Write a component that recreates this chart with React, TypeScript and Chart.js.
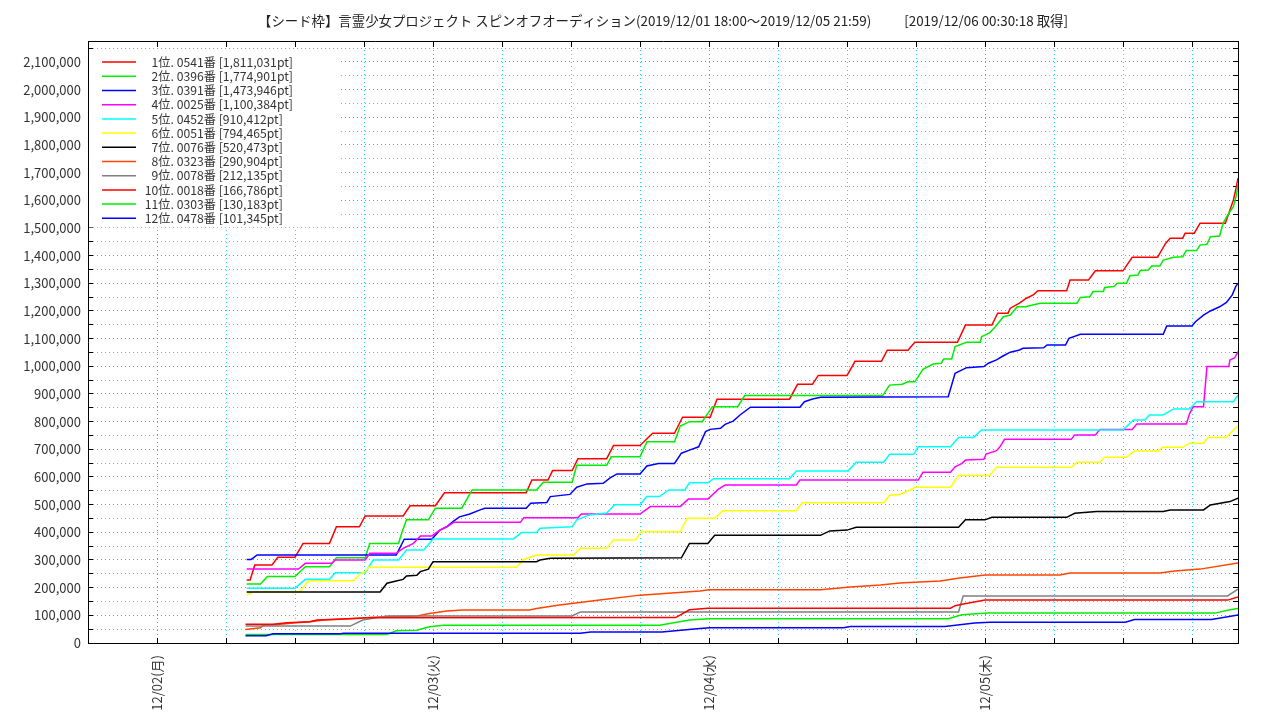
import React, { useEffect, useRef } from 'react';
import { Chart, registerables } from 'chart.js';

Chart.register(...registerables);

type Pt = [number, number];

const FONT = "'Noto Sans CJK JP', 'Noto Sans', sans-serif";

const chartTitle =
  '【シード枠】言霊少女プロジェクト スピンオフオーディション(2019/12/01 18:00～2019/12/05 21:59)           [2019/12/06 00:30:18 取得]';

// x axis: hours since 2019/12/01 18:00
const xMinHours = 0;
const xMaxHours = 100;
const xTickHours = [0, 6, 12, 18, 24, 30, 36, 42, 48, 54, 60, 66, 72, 78, 84, 90, 96];
const dayTickHours = [6, 30, 54, 78];
const dayTickLabels = ['12/02(月)', '12/03(火)', '12/04(水)', '12/05(木)'];
const yMax = 2172000;
const yTickStep = 50000;
const yLabelStep = 100000;

const seriesLabels = [
  '1位. 0541番 [1,811,031pt]',
  '2位. 0396番 [1,774,901pt]',
  '3位. 0391番 [1,473,946pt]',
  '4位. 0025番 [1,100,384pt]',
  '5位. 0452番 [910,412pt]',
  '6位. 0051番 [794,465pt]',
  '7位. 0076番 [520,473pt]',
  '8位. 0323番 [290,904pt]',
  '9位. 0078番 [212,135pt]',
  '10位. 0018番 [166,786pt]',
  '11位. 0303番 [130,183pt]',
  '12位. 0478番 [101,345pt]',
];

const seriesColors = [
  '#ff0000', '#00ee00', '#0000ff', '#ff00ff', '#00ffff', '#ffff00',
  '#000000', '#ff4500', '#808080', '#ff0000', '#00ee00', '#0000ff',
];

// [hour, points]
const s1: Pt[] = [[13.8,228000],[14.1,228000],[14.5,282000],[16.0,282000],[16.5,310000],[18.0,310000],[18.7,360000],[21.0,360000],[21.6,420000],[23.6,420000],[24.1,459000],[27.4,459000],[28.0,496000],[30.2,496000],[31.0,543000],[38.1,543000],[38.6,589000],[40.0,589000],[40.4,623000],[42.1,623000],[42.6,666000],[45.1,666000],[45.7,714000],[48.0,714000],[49.1,758000],[51.0,758000],[51.7,816000],[54.1,816000],[54.7,881000],[61.0,881000],[61.7,935000],[63.0,935000],[63.5,967000],[66.0,967000],[66.7,1018000],[69.0,1018000],[69.5,1058000],[71.3,1058000],[71.9,1087000],[75.6,1087000],[76.3,1149000],[78.6,1149000],[79.1,1192000],[80.0,1192000],[80.2,1210000],[81.0,1228000],[81.6,1246000],[82.2,1258000],[82.6,1273000],[85.1,1273000],[85.4,1312000],[87.0,1312000],[87.6,1345000],[90.0,1345000],[90.8,1394000],[93.0,1394000],[93.7,1444000],[94.1,1463000],[95.2,1463000],[95.4,1481000],[96.2,1481000],[96.7,1517000],[98.9,1517000],[99.6,1601000],[99.8,1637000],[100,1680000]];
const s2: Pt[] = [[13.8,213000],[15.0,213000],[15.6,240000],[18.0,240000],[18.9,276000],[21.0,276000],[21.6,308000],[24.1,308000],[24.5,360000],[27.0,360000],[27.3,400000],[27.7,445000],[29.6,445000],[30.2,487000],[32.5,487000],[33.4,553000],[39.0,553000],[39.6,581000],[42.1,581000],[42.5,642000],[45.1,642000],[45.5,673000],[48.0,673000],[48.6,727000],[51.0,727000],[51.5,784000],[52.3,800000],[53.4,800000],[54.3,854000],[56.5,854000],[57.1,894000],[69.1,894000],[69.7,932000],[70.8,935000],[71.3,944000],[71.9,944000],[72.6,989000],[73.5,1008000],[74.2,1011000],[74.4,1026000],[75.1,1026000],[75.4,1071000],[76.4,1087000],[77.6,1087000],[77.7,1107000],[78.4,1121000],[78.9,1143000],[79.6,1179000],[80.2,1185000],[80.8,1215000],[81.5,1215000],[82.8,1228000],[86.0,1228000],[86.3,1249000],[87.1,1251000],[87.4,1270000],[88.3,1270000],[88.4,1285000],[89.2,1288000],[89.5,1300000],[90.3,1300000],[90.6,1327000],[91.3,1330000],[91.5,1346000],[92.2,1348000],[92.5,1362000],[93.2,1362000],[93.5,1384000],[94.4,1394000],[95.2,1396000],[95.5,1418000],[96.4,1418000],[96.7,1438000],[97.3,1441000],[97.6,1468000],[98.4,1471000],[98.7,1517000],[99.2,1553000],[99.6,1577000],[99.9,1625000],[100,1662000]];
const s3: Pt[] = [[13.8,302000],[14.2,302000],[14.7,318000],[26.8,318000],[27.5,375000],[29.9,375000],[30.6,408000],[31.2,420000],[31.7,438000],[32.3,456000],[33.2,466000],[34.1,481000],[34.5,487000],[38.1,487000],[38.5,505000],[39.9,508000],[40.2,529000],[41.9,537000],[42.5,563000],[43.4,575000],[44.8,577000],[45.4,597000],[46.0,611000],[48.0,611000],[48.6,640000],[49.6,649000],[51.0,649000],[51.6,686000],[52.3,697000],[53.1,709000],[53.7,764000],[54.1,772000],[55.0,776000],[55.4,790000],[56.1,802000],[56.7,824000],[57.6,852000],[61.9,852000],[62.3,872000],[63.0,882000],[63.7,888000],[74.8,890000],[75.4,975000],[76.4,995000],[77.9,999000],[78.3,1011000],[79.0,1023000],[79.6,1038000],[80.2,1051000],[81.0,1059000],[81.3,1065000],[83.1,1067000],[83.4,1077000],[85.0,1077000],[85.3,1101000],[86.3,1116000],[93.5,1116000],[93.8,1146000],[96.0,1146000],[96.3,1161000],[97.0,1185000],[97.6,1200000],[98.4,1215000],[99.0,1231000],[99.5,1258000],[99.8,1288000],[100,1300000]];
const s4: Pt[] = [[13.8,267000],[18.3,267000],[18.9,288000],[21.2,288000],[21.5,300000],[24.1,300000],[24.5,324000],[26.8,324000],[27.4,342000],[28.3,360000],[28.9,387000],[29.9,387000],[30.6,408000],[31.2,420000],[31.8,436000],[37.6,436000],[37.9,453000],[42.6,453000],[42.9,466000],[48.0,466000],[48.9,493000],[51.5,493000],[52.2,520000],[53.9,520000],[54.8,555000],[55.4,571000],[61.6,571000],[61.9,589000],[72.2,589000],[72.6,617000],[75.0,617000],[75.4,637000],[76.0,649000],[76.3,661000],[77.9,664000],[78.1,683000],[79.0,695000],[79.3,709000],[79.7,736000],[85.5,736000],[85.8,752000],[87.6,752000],[88.0,772000],[90.8,772000],[91.2,791000],[95.5,791000],[95.8,830000],[96.1,854000],[97.0,854000],[97.3,999000],[99.2,999000],[99.3,1023000],[99.7,1030000],[100,1053000]];
const s5: Pt[] = [[13.8,198000],[18.0,198000],[18.9,230000],[21.0,230000],[21.5,254000],[24.1,254000],[24.8,300000],[27.0,300000],[27.7,336000],[29.2,336000],[30.0,376000],[37.0,376000],[37.7,399000],[39.0,399000],[39.3,415000],[42.1,420000],[42.5,445000],[43.6,463000],[45.1,470000],[45.8,500000],[48.0,500000],[48.6,529000],[49.7,529000],[50.5,553000],[51.9,553000],[52.3,579000],[53.9,579000],[54.4,594000],[61.0,594000],[61.6,622000],[66.1,622000],[66.8,653000],[69.2,653000],[69.7,682000],[71.8,682000],[72.2,709000],[75.0,709000],[75.7,743000],[77.0,743000],[77.7,770000],[90.0,770000],[90.9,806000],[91.9,806000],[92.3,824000],[93.5,824000],[94.4,846000],[95.8,846000],[96.4,872000],[99.6,872000],[100,896000]];
const s6: Pt[] = [[13.8,173000],[14.4,185000],[18.4,185000],[19.2,225000],[23.1,225000],[23.7,252000],[24.1,258000],[24.4,274000],[37.3,274000],[37.8,300000],[39.0,318000],[42.2,318000],[42.8,342000],[45.1,342000],[45.7,372000],[47.6,372000],[48.1,402000],[51.5,402000],[52.1,451000],[54.5,451000],[55.2,478000],[61.6,478000],[62.1,507000],[69.2,507000],[69.7,534000],[70.6,537000],[71.5,553000],[71.9,563000],[75.0,563000],[75.7,605000],[78.4,605000],[79.0,635000],[85.5,635000],[86.0,653000],[88.0,653000],[88.4,671000],[90.3,671000],[91.0,694000],[93.1,694000],[93.4,707000],[95.2,707000],[95.8,722000],[97.0,722000],[97.4,743000],[99.0,743000],[99.6,770000],[100,784000]];
const s7: Pt[] = [[13.8,184000],[25.4,184000],[26.0,216000],[26.8,224000],[27.4,230000],[27.7,242000],[28.6,245000],[28.9,258000],[29.6,267000],[30.0,294000],[39.0,294000],[39.3,300000],[40.2,306000],[51.6,308000],[52.3,360000],[53.9,360000],[54.5,389000],[63.7,389000],[64.5,405000],[66.0,408000],[66.8,418000],[75.7,418000],[76.3,445000],[78.0,445000],[78.6,454000],[85.1,454000],[85.8,469000],[87.7,475000],[93.5,475000],[94.1,481000],[97.0,481000],[97.6,499000],[99.3,511000],[100,523000]];
const s8: Pt[] = [[13.7,49000],[15.0,55000],[15.2,63000],[16.7,68000],[18.1,73000],[19.3,77000],[20.5,83000],[21.9,86000],[23.4,89000],[24.8,93000],[26.0,95000],[28.6,98000],[29.7,107000],[31.2,116000],[32.6,119000],[38.4,119000],[39.0,125000],[41.0,137000],[44.5,155000],[48.0,173000],[53.2,188000],[54.0,192000],[63.7,192000],[66.3,202000],[68.9,210000],[70.6,217000],[74.1,224000],[75.8,235000],[78.0,246000],[84.5,246000],[85.4,253000],[93.2,253000],[94.5,260000],[96.7,267000],[100,289000]];
const s9: Pt[] = [[13.7,61000],[22.8,61000],[23.9,83000],[26.0,98000],[42.1,98000],[42.8,112000],[75.7,112000],[76.1,170000],[99.1,170000],[100,195000]];
const s10: Pt[] = [[13.7,68000],[16.1,68000],[17.3,73000],[19.3,77000],[19.9,83000],[21.6,86000],[23.7,89000],[24.0,91000],[51.1,92000],[52.3,120000],[53.9,126000],[75.0,126000],[75.4,135000],[76.0,140000],[78.0,155000],[99.1,155000],[100,166000]];
const s11: Pt[] = [[13.7,31000],[26.0,31000],[26.8,44000],[28.6,46000],[29.7,59000],[30.9,64000],[49.7,64000],[52.3,83000],[54.0,88000],[74.8,88000],[76.0,102000],[78.2,108000],[98.0,108000],[99.3,120000],[100,125000]];
const s12: Pt[] = [[13.7,26000],[15.5,26000],[16.1,33000],[21.9,33000],[22.2,35000],[42.8,35000],[43.7,40000],[49.9,40000],[53.2,52000],[54.1,55000],[65.7,55000],[66.3,60000],[74.5,60000],[77.1,72000],[78.4,75000],[90.2,75000],[91.0,85000],[97.7,85000],[100,101000]];

const allSeries = [s1, s2, s3, s4, s5, s6, s7, s8, s9, s10, s11, s12];

const GRID_MAJOR = 'rgba(0, 210, 0, 0.85)';
const GRID_MINOR = 'rgba(0, 215, 215, 0.85)';

const yTickValues = (() => {
  const out: { value: number }[] = [];
  for (let v = 0; v <= yMax; v += yTickStep) out.push({ value: v });
  return out;
})();

const legendPlugin = {
  id: 'legendInside',
  afterLayout(chart: any) {
    const lg = chart.legend;
    if (!lg) return;
    const a = chart.chartArea;
    lg.left = a.left + 12;
    lg.top = a.top + 12;
    lg.right = lg.left + lg.width;
    lg.bottom = lg.top + lg.height;
  },
  beforeDatasetsDraw(chart: any) {
    const lg = chart.legend;
    const area = chart.chartArea;
    if (!lg) return;
    const ctx = chart.ctx;
    const colH = lg.columnSizes && lg.columnSizes[0] ? lg.columnSizes[0].height : 170;
    ctx.save();
    ctx.fillStyle = '#ffffff';
    ctx.fillRect(area.left + 1, lg.top - 5, lg.left + lg.width + 38 - area.left - 1, colH + 8);
    ctx.restore();
    lg.draw();
  },
};

export default function App() {
  const ref = useRef<HTMLCanvasElement>(null);
  useEffect(() => {
    if (!ref.current) return;
    const datasets = allSeries.map((pts, i) => ({
      label: seriesLabels[i],
      data: pts.map(([h, v]) => ({ x: h, y: v })),
      borderColor: seriesColors[i],
      backgroundColor: seriesColors[i],
      borderWidth: 1.5,
      pointRadius: 0,
      pointHoverRadius: 0,
      tension: 0,
      fill: false,
      order: allSeries.length - i,
    }));
    const xTicks = () => xTickHours.map((h) => ({ value: h }));
    const chart = new Chart(ref.current, {
      type: 'line',
      data: { datasets },
      plugins: [legendPlugin],
      options: {
        animation: false,
        responsive: false,
        devicePixelRatio: 1,
        layout: { padding: 0 },
        events: [],
        plugins: {
          title: {
            display: true,
            fullSize: false,
            text: chartTitle,
            color: '#222',
            font: { family: FONT, size: 13.4, weight: 'normal' },
            padding: { top: 13, bottom: 12.9 },
          },
          legend: {
            display: true,
            position: 'chartArea',
            align: 'start',
            labels: {
              usePointStyle: true,
              pointStyle: 'line',
              pointStyleWidth: 34,
              boxWidth: 34,
              padding: 2,
              color: '#333',
              font: { family: FONT, size: 12.2 },
              sort: (a: any, b: any) => a.datasetIndex - b.datasetIndex,
              generateLabels: (c: any) =>
                (Chart.defaults.plugins.legend.labels.generateLabels as any)(c).map((item: any) => ({
                  ...item,
                  text: (item.datasetIndex < 9 ? '\u2007' : '') + ' ' + item.text,
                })),
            },
          },
          tooltip: { enabled: false },
        },
        scales: {
          x: {
            type: 'linear',
            position: 'bottom',
            min: xMinHours,
            max: xMaxHours,
            afterFit: (s: any) => { s.height = 77; },
            afterBuildTicks: (s: any) => { s.ticks = xTicks(); },
            ticks: {
              autoSkip: false,
              minRotation: 90,
              maxRotation: 90,
              padding: 17,
              color: '#333',
              font: { family: FONT, size: 13 },
              callback: (v: any) => {
                const i = dayTickHours.indexOf(Number(v));
                return i >= 0 ? dayTickLabels[i] : '';
              },
            },
            grid: {
              color: (c: any) => (c.tick && dayTickHours.includes(c.tick.value) ? GRID_MAJOR : GRID_MINOR),
              lineWidth: 1,
              drawTicks: true,
              tickLength: -5,
              tickColor: '#000',
              tickWidth: 1,
              tickBorderDash: [],
            },
            border: { display: true, color: '#000', width: 1, dash: [1, 3] },
          },
          x2: {
            type: 'linear',
            position: 'top',
            min: xMinHours,
            max: xMaxHours,
            afterFit: (s: any) => { s.height = 0; },
            afterBuildTicks: (s: any) => { s.ticks = xTicks(); },
            ticks: { display: false },
            grid: { drawOnChartArea: false, drawTicks: true, tickLength: -5, tickColor: '#000', tickWidth: 1 },
            border: { display: true, color: '#000', width: 1 },
          },
          y: {
            type: 'linear',
            position: 'left',
            min: 0,
            max: yMax,
            afterFit: (s: any) => { s.width = 88; },
            afterBuildTicks: (s: any) => { s.ticks = yTickValues.map((t) => ({ ...t })); },
            ticks: {
              autoSkip: false,
              padding: 12,
              color: '#333',
              font: { family: FONT, size: 13 },
              callback: (v: any) => (Number(v) % yLabelStep === 0 ? Number(v).toLocaleString('en-US') : ''),
            },
            grid: {
              color: (c: any) => (c.tick && c.tick.value % yLabelStep === 0 ? GRID_MAJOR : GRID_MINOR),
              lineWidth: 1,
              drawTicks: true,
              tickLength: -5,
              tickColor: '#000',
              tickWidth: 1,
              tickBorderDash: [],
            },
            border: { display: true, color: '#000', width: 1, dash: [1, 3] },
          },
          y2: {
            type: 'linear',
            position: 'right',
            min: 0,
            max: yMax,
            afterFit: (s: any) => { s.width = 42; },
            afterBuildTicks: (s: any) => { s.ticks = yTickValues.map((t) => ({ ...t })); },
            ticks: { display: false },
            grid: { drawOnChartArea: false, drawTicks: true, tickLength: -5, tickColor: '#000', tickWidth: 1 },
            border: { display: true, color: '#000', width: 1 },
          },
        },
      } as any,
    });
    return () => chart.destroy();
  }, []);
  return (
    <div style={{ position: 'absolute', left: 0, top: 0, width: 1280, height: 720, background: '#fff' }}>
      <canvas ref={ref} width={1280} height={720} style={{ display: 'block', width: 1280, height: 720 }} />
    </div>
  );
}
